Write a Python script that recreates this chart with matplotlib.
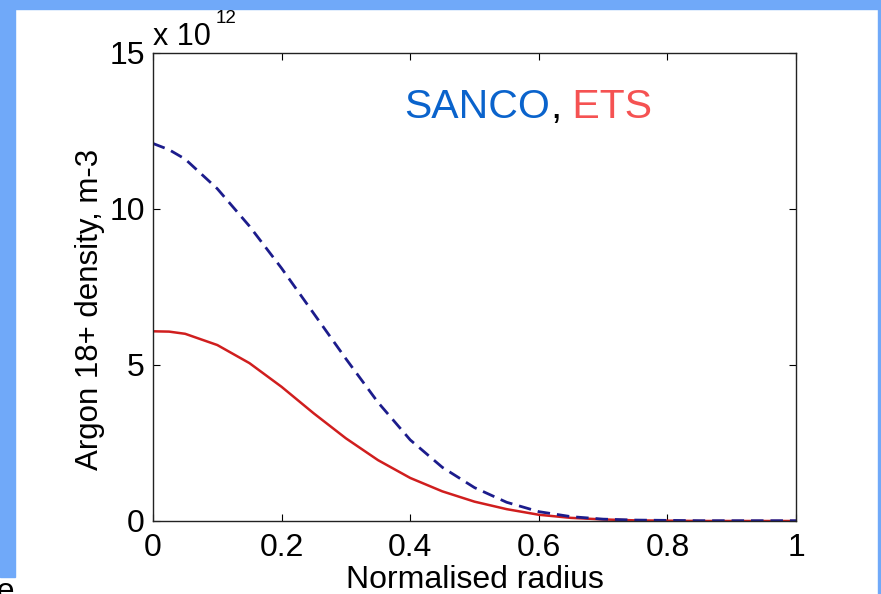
import matplotlib.pyplot as plt
from matplotlib.patches import Rectangle

plt.rcParams["font.family"] = ["Liberation Sans", "DejaVu Sans"]

# normalised radius samples and Ar18+ density (units of 1e12 m^-3)
radius = [0.0, 0.025, 0.05, 0.1, 0.15, 0.2, 0.25, 0.3, 0.35, 0.4, 0.45, 0.5,
          0.55, 0.6, 0.65, 0.7, 0.75, 0.8, 0.85, 0.9, 0.95, 1.0]
sanco = [12.1, 11.9, 11.6, 10.65, 9.45, 8.1, 6.65, 5.2, 3.8, 2.6, 1.72, 1.07,
         0.6, 0.3, 0.14, 0.06, 0.03, 0.02, 0.01, 0.01, 0.01, 0.01]
ets = [6.08, 6.07, 6.0, 5.64, 5.06, 4.3, 3.45, 2.65, 1.95, 1.38, 0.95, 0.62,
       0.38, 0.2, 0.1, 0.05, 0.02, 0.01, 0.0, 0.0, 0.0, 0.0]

xticks = [0, 0.2, 0.4, 0.6, 0.8, 1]
xticklabels = ["0", "0.2", "0.4", "0.6", "0.8", "1"]
yticks = [0, 5, 10, 15]
yticklabels = ["0", "5", "10", "15"]

W, H = 881, 594
fig = plt.figure(figsize=(W / 100, H / 100), dpi=100)
fig.patch.set_facecolor("white")

# slide border strips
border = "#70a9f9"
fig.patches.append(Rectangle((0, 1 - 9 / H), 1, 9 / H, transform=fig.transFigure,
                             color=border, zorder=0))
fig.patches.append(Rectangle((0, 17 / H), 15 / W, 1, transform=fig.transFigure,
                             color=border, zorder=0))
fig.patches.append(Rectangle((878 / W, 0), 3 / W, 1, transform=fig.transFigure,
                             color=border, zorder=0))

ax = fig.add_axes([153 / W, (H - 521) / H, 643 / W, 468 / H])
ax.plot(radius, ets, color="#d01e1e", lw=1.8)
ax.plot(radius, sanco, color="#1c1c8c", lw=2.0, dashes=(4.5, 2.5))

ax.set_xlim(0, 1)
ax.set_ylim(0, 15)
ax.set_xticks(xticks)
ax.set_xticklabels(xticklabels)
ax.set_yticks(yticks)
ax.set_yticklabels(yticklabels)
ax.tick_params(direction="in", length=5, width=0.8, labelsize=23,
               top=True, right=True)
ax.tick_params(axis="x", pad=9)
ax.tick_params(axis="y", pad=6)
for s in ax.spines.values():
    s.set_linewidth(1.0)
    s.set_color("#222222")

ax.set_xlabel("Normalised radius", fontsize=23, labelpad=1)
ax.set_ylabel("Argon 18+ density, m-3", fontsize=22.5)
ax.yaxis.set_label_coords(-0.074, 0.453)

# exponent marker
fig.text(153 / W, 1 - 45 / H, "x 10", fontsize=22, va="baseline", ha="left")
fig.text(216 / W, 1 - 23 / H, "12", fontsize=13.5, va="baseline", ha="left")

# coloured title pieces
t1 = fig.text(404 / W, 1 - 118 / H, "SANCO", fontsize=29.5, color="#0a63cc",
              va="baseline", ha="left")
t2 = ax.annotate(",", xy=(1, 0), xycoords=t1, xytext=(0, 0),
                 textcoords="offset points", fontsize=29.5, color="black",
                 va="bottom", ha="left")
t3 = ax.annotate(" ETS", xy=(1, 0), xycoords=t2, xytext=(0, 0),
                 textcoords="offset points", fontsize=29.5, color="#f55252",
                 va="bottom", ha="left")

# cut-off text at the slide edge
fig.text(15 / W, 1 - 600 / H, "ee", fontsize=23, va="baseline", ha="right")

fig.savefig("out.png", dpi=100)
